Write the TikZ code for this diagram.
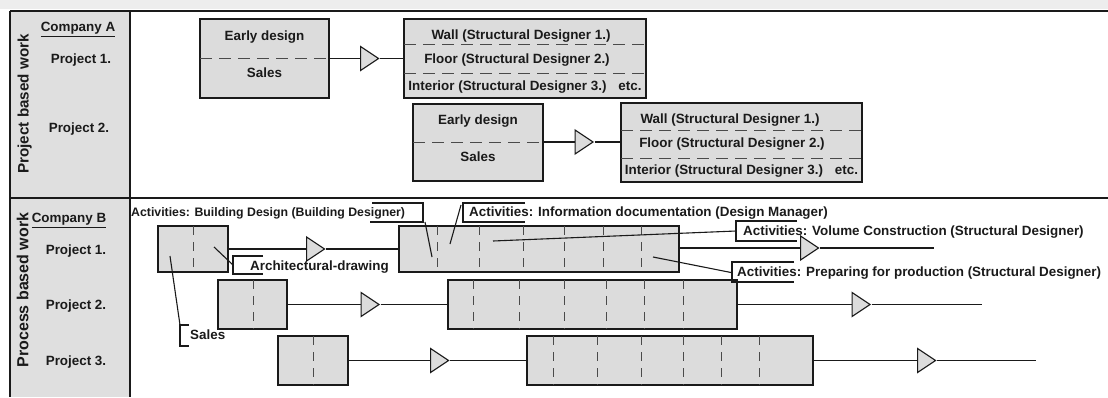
\documentclass[tikz,border=0pt]{standalone}
\usepackage{fontspec}
\setmainfont{Liberation Sans}
\usetikzlibrary{shapes.geometric}
\definecolor{boxgray}{HTML}{DCDCDC}
\definecolor{colgray}{HTML}{DFDFDF}
\definecolor{bandgray}{HTML}{EDEDED}
\definecolor{ink}{HTML}{1A1A1A}
\definecolor{dashgray}{HTML}{4A4A4A}
\tikzset{
  box/.style={draw=ink, fill=boxgray, line width=1.1pt, inner sep=0pt, rectangle},
  tri/.style={draw=ink, fill=boxgray, line width=1.1pt, isosceles triangle,
    isosceles triangle stretches, minimum width=24pt, minimum height=18pt, inner sep=0pt},
  conn/.style={draw=ink, line width=1.1pt},
  frame/.style={draw=ink, line width=1.6pt},
  hdash/.style={draw=dashgray, line width=1pt, dash pattern=on 12pt off 7pt},
  vdash/.style={draw=dashgray, line width=1pt, dash pattern=on 9pt off 7pt},
  callout/.style={draw=ink, line width=1.1pt},
  txt/.style={inner sep=0pt, text=ink, font=\fontsize{13.4}{15}\selectfont\bfseries,
    text height=9.6pt, text depth=0pt},
  act/.style={txt, anchor=west},
  side/.style={txt, rotate=90}
}
\begin{document}
\begin{tikzpicture}[x=1pt,y=-1pt]
\useasboundingbox (0,0) rectangle (1108,397);
% background band and table
\fill[bandgray] (0,0) rectangle (1108,9);
\fill[colgray] (10,11) rectangle (130,397);
\draw[frame] (10,11) -- (1108,11);
\draw[frame] (10,198) -- (1108,198);
\draw[frame] (10,11) -- (10,397);
\draw[frame] (130,11) -- (130,397);

% left column labels
\node[side, font=\fontsize{15.2}{17}\selectfont\bfseries, text height=11pt] (pbw) at (23,104) {Project based work};
\node[side, font=\fontsize{16}{18}\selectfont\bfseries, text height=11.5pt] (prbw) at (22.5,290) {Process based work};
\node[txt] (ca) at (78,27) {\underline{Company A}};
\node[txt] (ap1) at (81,59) {Project 1.};
\node[txt] (ap2) at (79,128) {Project 2.};
\node[txt] (cb) at (69,218) {\underline{Company B}};
\node[txt] (bp1) at (76,250) {Project 1.};
\node[txt] (bp2) at (76,305) {Project 2.};
\node[txt] (bp3) at (76,361) {Project 3.};

% ---------- Company A, Project 1
\node[box, minimum width=129pt, minimum height=79pt] (ae1) at (264.5,58.5) {};
\draw[hdash] (200,58.5) -- (329,58.5);
\node[txt] (ae1t) at (264.5,36) {Early design};
\node[txt] (ae1s) at (264.5,73) {Sales};
\node[tri] (at1) at (367,58.5) {};
\node[box, minimum width=242pt, minimum height=79pt] (aw1) at (525,58.5) {};
\draw[hdash] (404,44.5) -- (646,44.5);
\draw[hdash] (404,73) -- (646,73);
\node[txt] (aw1a) at (521,35) {Wall (Structural Designer 1.)};
\node[txt] (aw1b) at (517,59) {Floor (Structural Designer 2.)};
\node[txt] (aw1c) at (525,86) {Interior (Structural Designer 3.)\hspace{12pt}etc.};
\draw[conn] (ae1.east) -- (at1.west);
\draw[conn] (at1.apex) -- (aw1.west);

% ---------- Company A, Project 2
\node[box, minimum width=130pt, minimum height=77pt] (ae2) at (478,142.5) {};
\draw[hdash] (413,142) -- (543,142);
\node[txt] (ae2t) at (478,120) {Early design};
\node[txt] (ae2s) at (478,157) {Sales};
\node[tri] (at2) at (581.5,142) {};
\node[box, minimum width=241pt, minimum height=79pt] (aw2) at (741.5,142.5) {};
\draw[hdash] (621,130) -- (862,130);
\draw[hdash] (621,158) -- (862,158);
\node[txt] (aw2a) at (730,119) {Wall (Structural Designer 1.)};
\node[txt] (aw2b) at (732,143) {Floor (Structural Designer 2.)};
\node[txt] (aw2c) at (741.5,170) {Interior (Structural Designer 3.)\hspace{12pt}etc.};
\draw[conn] (ae2.east |- at2.west) -- (at2.west);
\draw[conn] (at2.apex) -- (aw2.west |- at2.apex);

% ---------- Company B, Project 1
\node[box, minimum width=70pt, minimum height=46pt] (bs1) at (193,249) {};
\draw[vdash] (193,226) -- (193,272);
\node[tri] (bt1) at (313,249) {};
\node[box, minimum width=280pt, minimum height=46pt] (bb1) at (539,249) {};
\foreach \x in {437,479,523,564,603,641} \draw[vdash] (\x,226) -- (\x,272);
\node[tri] (bt1b) at (807,248) {};
\coordinate (be1) at (934,248);
\draw[conn] (bs1.east) -- (bt1.west);
\draw[conn] (bt1.apex) -- (bb1.west);
\draw[conn] (bb1.east |- bt1b.west) -- (bt1b.west);
\draw[conn] (bt1b.apex) -- (be1);

% ---------- Company B, Project 2
\node[box, minimum width=69pt, minimum height=49pt] (bs2) at (252.5,304.5) {};
\draw[vdash] (253,280) -- (253,329);
\node[tri] (bt2) at (367.5,304.5) {};
\node[box, minimum width=289pt, minimum height=49pt] (bb2) at (592.5,304.5) {};
\foreach \x in {473,519,564,606,644,683} \draw[vdash] (\x,280) -- (\x,329);
\node[tri] (bt2b) at (858.5,304.5) {};
\coordinate (be2) at (982,304.5);
\draw[conn] (bs2.east) -- (bt2.west);
\draw[conn] (bt2.apex) -- (bb2.west);
\draw[conn] (bb2.east) -- (bt2b.west);
\draw[conn] (bt2b.apex) -- (be2);

% ---------- Company B, Project 3
\node[box, minimum width=70pt, minimum height=49pt] (bs3) at (313,360.5) {};
\draw[vdash] (313,336) -- (313,385);
\node[tri] (bt3) at (437,360.5) {};
\node[box, minimum width=286pt, minimum height=49pt] (bb3) at (670,360.5) {};
\foreach \x in {553,597,641,683,721,759} \draw[vdash] (\x,336) -- (\x,385);
\node[tri] (bt3b) at (924,360.5) {};
\coordinate (be3) at (1036,360.5);
\draw[conn] (bs3.east) -- (bt3.west);
\draw[conn] (bt3.apex) -- (bb3.west);
\draw[conn] (bb3.east) -- (bt3b.west);
\draw[conn] (bt3b.apex) -- (be3);

% ---------- callouts
% Building design
\node[act, font=\fontsize{12.3}{14}\selectfont\bfseries, text height=8.8pt] (cbd) at (131,212) {Activities: Building Design (Building Designer)};
\draw[callout] (372,203) -- (423,203) -- (423,222) -- (370,222);
\coordinate (cbdA) at (425,222);
\coordinate (cbdB) at (432,257);
\draw[callout] (cbdA) -- (cbdB);
% Information documentation
\node[act] (cid) at (469,212) {Activities: Information documentation (Design Manager)};
\draw[callout] (525,203) -- (463,203) -- (463,222) -- (525,222);
\coordinate (cidA) at (461,205);
\coordinate (cidB) at (450,244);
\draw[callout] (cidA) -- (cidB);
% Volume construction
\node[act] (cvc) at (743,231) {Activities: Volume Construction (Structural Designer)};
\draw[callout] (797,221) -- (736,221) -- (736,241) -- (797,241);
\coordinate (cvcA) at (736,231);
\coordinate (cvcB) at (493,241);
\draw[callout] (cvcA) -- (cvcB);
% Preparing for production
\node[act] (cpp) at (737,272) {Activities: Preparing for production (Structural Designer)};
\draw[callout] (794,262) -- (732,262) -- (732,282) -- (794,282);
\coordinate (cppA) at (731,272.5);
\coordinate (cppB) at (653,257);
\draw[callout] (cppA) -- (cppB);
% Architectural drawing
\node[act] (cad) at (250,266) {Architectural-drawing};
\draw[callout] (263,256) -- (233,256) -- (233,274) -- (263,274);
\coordinate (cadA) at (233,265);
\coordinate (cadB) at (214,247);
\draw[callout] (cadA) -- (cadB);
% Sales
\node[act] (csa) at (190,335) {Sales};
\draw[callout] (189,325) -- (180,325) -- (180,346) -- (189,346);
\coordinate (csaA) at (180,325);
\coordinate (csaB) at (170,256);
\draw[callout] (csaA) -- (csaB);
\end{tikzpicture}
\end{document}
